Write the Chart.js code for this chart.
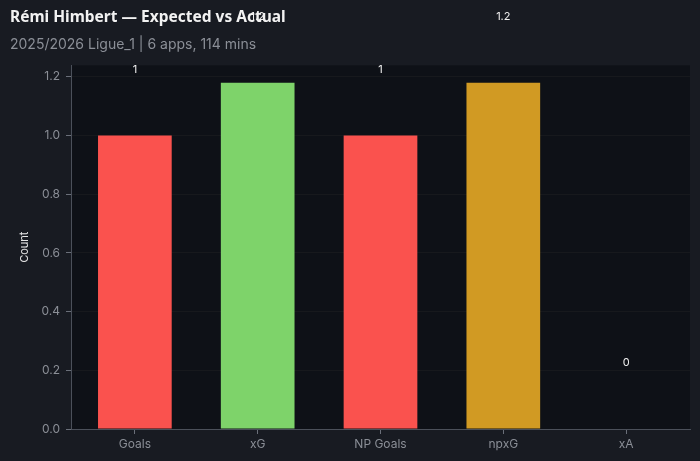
<!DOCTYPE html>
<html>
<head>
<meta charset="utf-8">
<script src="https://cdn.jsdelivr.net/npm/chart.js@4.4.1/dist/chart.umd.min.js"></script>
<style>
  html, body { margin: 0; padding: 0; background: #181b22; }
  #wrap { width: 700px; height: 461px; }
</style>
</head>
<body>
<div id="wrap"><canvas id="myChart"></canvas></div>
<script>
const categories = ['Goals', 'xG', 'NP Goals', 'npxG', 'xA'];
const values = [1, 1.18, 1, 1.18, 0];
const barColors = ['#fa524e', '#7ed36a', '#fa524e', '#d19a23', '#0e1117'];
const yTicks = [0, 0.2, 0.4, 0.6, 0.8, 1.0, 1.2];

const plotBg = {
  id: 'plotBg',
  beforeDraw(chart) {
    const { ctx, chartArea: a } = chart;
    ctx.save();
    ctx.fillStyle = '#0e1117';
    ctx.fillRect(a.left, a.top, a.right - a.left, a.bottom - a.top);
    ctx.restore();
  }
};

// value labels, sitting a fixed distance above each bar
const barLabels = {
  id: 'barLabels',
  afterDraw(chart) {
    const { ctx } = chart;
    const y = chart.scales.y;
    const meta = chart.getDatasetMeta(0);
    ctx.save();
    ctx.font = '11px Inter';
    ctx.fillStyle = '#f0f0f0';
    ctx.textAlign = 'center';
    ctx.textBaseline = 'middle';
    meta.data.forEach((bar, i) => {
      const v = values[i];
      const txt = Number.isInteger(v) ? String(v) : v.toFixed(1);
      ctx.fillText(txt, bar.x, y.getPixelForValue(v + 0.225));
    });
    ctx.restore();
  }
};

new Chart(document.getElementById('myChart'), {
  type: 'bar',
  data: {
    datasets: [{
      data: values.map((v, i) => ({ x: i, y: v })),
      backgroundColor: barColors,
      barPercentage: 0.6,
      categoryPercentage: 1.0
    }]
  },
  options: {
    responsive: true,
    maintainAspectRatio: false,
    animation: false,
    layout: { padding: { left: 10, right: 10, top: 0, bottom: 0 } },
    plugins: {
      legend: { display: false },
      tooltip: { enabled: false },
      title: {
        display: true,
        align: 'start',
        text: 'Rémi Himbert — Expected vs Actual',
        color: '#f2f2f2',
        font: { family: 'Noto Sans', size: 15.5, weight: 'bold' },
        padding: { top: 8, bottom: 8 }
      },
      subtitle: {
        display: true,
        align: 'start',
        text: '2025/2026 Ligue_1 | 6 apps, 114 mins',
        color: '#8b8f97',
        font: { family: 'Inter', size: 14 },
        padding: { top: 2, bottom: 12 }
      }
    },
    scales: {
      x: {
        type: 'linear',
        min: -0.52,
        max: 4.52,
        offset: false,
        grid: { display: true, offset: false, drawOnChartArea: false, tickLength: 5, tickColor: '#6a6f79' },
        border: { color: '#4b505a' },
        ticks: {
          color: '#8b8f97',
          font: { family: 'Inter', size: 12 },
          padding: 3,
          callback: v => categories[v]
        },
        afterBuildTicks(s) {
          s.ticks = categories.map((c, i) => ({ value: i }));
        },
        afterFit(s) { s.height = 32; }
      },
      y: {
        min: 0,
        max: 1.239,
        z: 1,
        grid: { color: 'rgba(40,40,40,0.35)', tickLength: 5, tickColor: '#6a6f79' },
        border: { color: '#4b505a' },
        ticks: {
          color: '#8b8f97',
          font: { family: 'Inter', size: 12 },
          padding: 6,
          callback: v => v.toFixed(1)
        },
        afterBuildTicks(s) {
          s.ticks = yTicks.map(v => ({ value: v }));
        },
        title: {
          display: true,
          text: 'Count',
          color: '#e6e6e6',
          font: { family: 'Inter', size: 11 },
          padding: { top: 8, bottom: 0 }
        },
        afterFit(s) { s.width = 61; }
      }
    }
  },
  plugins: [plotBg, barLabels]
});
</script>
</body>
</html>
